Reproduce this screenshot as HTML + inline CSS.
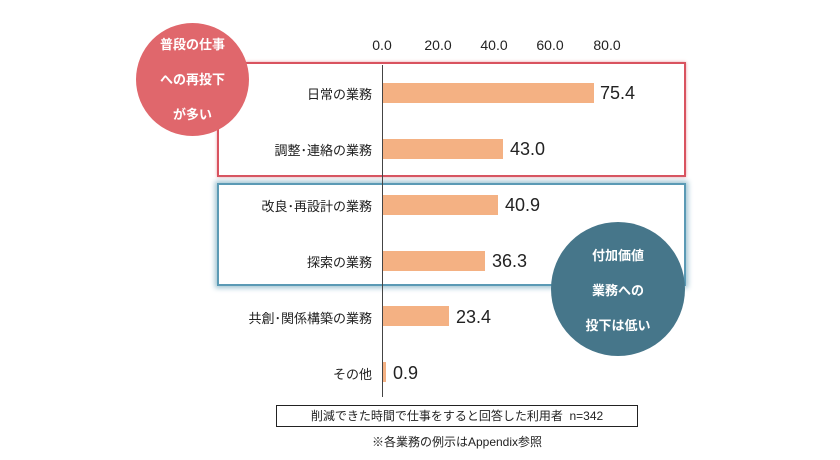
<!DOCTYPE html>
<html><head><meta charset="utf-8"><style>
body{margin:0;width:840px;height:460px;background:#fff;position:relative;overflow:hidden;font-family:"Liberation Sans","Noto Sans CJK JP",sans-serif;color:#222}
.a{position:absolute}
.tick{font-size:14px;top:37px;width:40px;text-align:center}
.lab{font-size:13px;right:468px;text-align:right;white-space:nowrap}
.bar{background:#f4b183;left:383px;height:20px}
.val{font-size:18px}
.circ{border-radius:50%;color:#fff;font-weight:bold;font-size:13px;text-align:center;line-height:35px}
</style></head><body>
<div class="a" style="left:217px;top:62px;width:465px;height:111px;border:2px solid #d9535f;box-shadow:0 0 3px #e9a0a6"></div>
<div class="a" style="left:217px;top:183px;width:465px;height:99px;border:2px solid #5b9ab5;box-shadow:0 0 5px 2px #9fc3d1"></div>
<div class="tick a" style="left:362px">0.0</div>
<div class="tick a" style="left:418px">20.0</div>
<div class="tick a" style="left:474px">40.0</div>
<div class="tick a" style="left:530px">60.0</div>
<div class="tick a" style="left:587px">80.0</div>
<div class="a" style="left:382px;top:65px;width:1px;height:332px;background:#444"></div>
<div class="lab a" style="top:84px">日常の業務</div>
<div class="lab a" style="top:140px">調整･連絡の業務</div>
<div class="lab a" style="top:196px">改良･再設計の業務</div>
<div class="lab a" style="top:252px">探索の業務</div>
<div class="lab a" style="top:308px">共創･関係構築の業務</div>
<div class="lab a" style="top:364px">その他</div>
<div class="bar a" style="top:83px;width:211px"></div>
<div class="bar a" style="top:139px;width:120px"></div>
<div class="bar a" style="top:195px;width:115px"></div>
<div class="bar a" style="top:251px;width:102px"></div>
<div class="bar a" style="top:306px;width:66px"></div>
<div class="bar a" style="top:362px;width:3px"></div>
<div class="val a" style="left:600px;top:83px">75.4</div>
<div class="val a" style="left:510px;top:139px">43.0</div>
<div class="val a" style="left:505px;top:195px">40.9</div>
<div class="val a" style="left:492px;top:251px">36.3</div>
<div class="val a" style="left:456px;top:307px">23.4</div>
<div class="val a" style="left:393px;top:363px">0.9</div>
<div class="a circ" style="left:136px;top:23px;width:113px;height:113px;background:#e0676c;padding-top:4px;box-sizing:border-box">普段の仕事<br>への再投下<br>が多い</div>
<div class="a circ" style="left:551px;top:222px;width:134px;height:134px;background:#46768a;padding-top:16px;box-sizing:border-box">付加価値<br>業務への<br>投下は低い</div>
<div class="a" style="left:276px;top:405px;width:360px;height:20px;border:1px solid #222;font-size:12px;text-align:center;line-height:20px">削減できた時間で仕事をすると回答した利用者&nbsp; n=342</div>
<div class="a" style="left:276px;top:433px;width:362px;font-size:12px;text-align:center">※各業務の例示はAppendix参照</div>
</body></html>
